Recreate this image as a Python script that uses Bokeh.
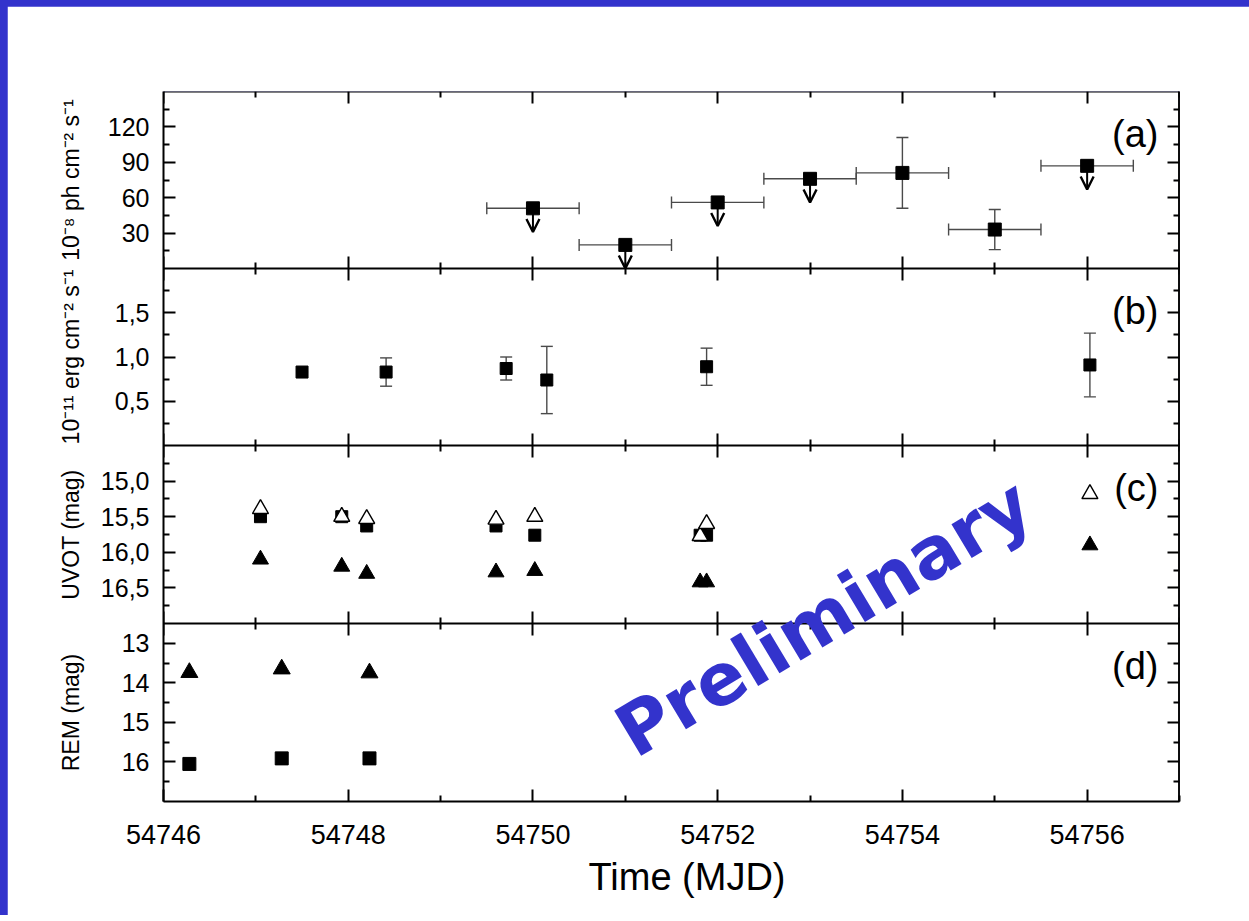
import math
from bokeh.plotting import figure
from bokeh.layouts import column
from bokeh.models import (Range1d, LinearAxis, FixedTicker, CustomJSTickFormatter, Whisker,
                          TeeHead, Arrow, OpenHead, ColumnDataSource, Label, Title)
from bokeh.embed import file_html
from bokeh.resources import INLINE

# ---------------- data ----------------
# shared time axis (MJD)
x_start, x_end = 54746, 54757
x_major = [54746, 54748, 54750, 54752, 54754, 54756]
x_minor = [54747, 54749, 54751, 54753, 54755, 54757]

# (a) gamma-ray flux, 1e-8 ph cm-2 s-1
a_t = [54750, 54751, 54752, 54753, 54754, 54755, 54756]
a_flux = [51, 20, 56, 76, 81, 33, 87]
a_terr = [0.5, 0.5, 0.5, 0.5, 0.5, 0.5, 0.5]
a_ferr = [0, 0, 0, 0, 30, 17, 0]
a_upper = [True, True, True, True, False, False, True]
a_major = [30, 60, 90, 120]
a_minor = [15, 45, 75, 105, 135]

# (b) X-ray flux, 1e-11 erg cm-2 s-1
b_t = [54747.50, 54748.41, 54749.71, 54750.15, 54751.88, 54756.03]
b_flux = [0.83, 0.83, 0.87, 0.74, 0.89, 0.91]
b_ferr = [0.01, 0.16, 0.13, 0.38, 0.21, 0.36]
b_major = [0.5, 1.0, 1.5]
b_minor = [0.25, 0.75, 1.25, 1.75]

# (c) UVOT magnitudes
c_open_t = [54747.05, 54747.93, 54748.20, 54749.60, 54750.02, 54751.81, 54751.88, 54756.03]
c_open_mag = [15.39, 15.50, 15.53, 15.54, 15.50, 15.77, 15.60, 15.18]
c_sq_t = [54747.05, 54747.93, 54748.20, 54749.60, 54750.02, 54751.81, 54751.88]
c_sq_mag = [15.50, 15.50, 15.63, 15.63, 15.76, 15.76, 15.76]
c_tri_t = [54747.05, 54747.93, 54748.20, 54749.60, 54750.02, 54751.81, 54751.88, 54756.03]
c_tri_mag = [16.10, 16.20, 16.30, 16.28, 16.26, 16.42, 16.42, 15.90]
c_major = [15.0, 15.5, 16.0, 16.5]
c_minor = [14.75, 15.25, 15.75, 16.25, 16.75]

# (d) REM magnitudes
d_t = [54746.28, 54747.28, 54748.23]
d_tri_mag = [13.74, 13.65, 13.75]
d_sq_mag = [16.05, 15.91, 15.91]
d_major = [13, 14, 15, 16]
d_minor = [13.5, 14.5, 15.5, 16.5]

# axis limits of each panel: (bottom value, top value)
lims = {"a": (0, 150), "b": (0, 2.0), "c": (17.0, 14.5), "d": (17.0, 12.5)}
ylabels = {"a": "10\u207b\u2078 ph cm\u207b\u00b2 s\u207b\u00b9",
           "b": "10\u207b\u00b9\u00b9 erg cm\u207b\u00b2 s\u207b\u00b9",
           "c": "UVOT (mag)", "d": "REM (mag)"}
ticks = {"a": (a_major, a_minor), "b": (b_major, b_minor),
         "c": (c_major, c_minor), "d": (d_major, d_minor)}
decimals = {"a": 0, "b": 1, "c": 1, "d": 0}
names = ["a", "b", "c", "d"]

# ---------------- layout / style ----------------
FONT = "Liberation Sans"
ERR_COLOR = "#4a4a4a"
ARROW_LEN = 20  # length of upper-limit arrows, in flux units of panel (a)
FRAME_W, FRAME_H = 1016, 710
panel_px = {"a": (0, 177), "b": (177, 354), "c": (354, 532), "d": (532, 710)}


def stacked_range(name):
    lo, hi = lims[name]
    t0, t1 = panel_px[name]
    u = (hi - lo) / (t1 - t0)
    return Range1d(lo - u * (FRAME_H - t1), hi + u * t0)


def to_px(name, v):
    """position of value v of panel `name` on the shared (pixel-like) left scale"""
    lo, hi = lims[name]
    t0, t1 = panel_px[name]
    from_top = t1 - (v - lo) / (hi - lo) * (t1 - t0)
    return FRAME_H - from_top


def fmt_num(v, dec):
    return ("%.*f" % (dec, v)).replace(".", ",")


def hide_fmt():
    return CustomJSTickFormatter(code="return ''")


def lookup_fmt(pos, txt):
    return CustomJSTickFormatter(args=dict(pos=pos, txt=txt), code="""
        let best = 0;
        for (let k = 0; k < pos.length; k++) {
            if (Math.abs(pos[k] - tick) < Math.abs(pos[best] - tick)) best = k;
        }
        return txt[best];
    """)


tick_style = dict(axis_line_width=2, axis_line_color="black",
                  major_tick_line_width=2, minor_tick_line_width=2,
                  major_tick_line_color="black", minor_tick_line_color="black",
                  major_tick_in=12, major_tick_out=0, minor_tick_in=6, minor_tick_out=0)

xr = Range1d(x_start, x_end)
p = figure(x_range=xr, y_range=Range1d(0, FRAME_H), frame_width=FRAME_W, frame_height=FRAME_H,
           min_border_left=156, min_border_right=70, min_border_top=85, min_border_bottom=114,
           x_axis_location=None, y_axis_location=None,
           toolbar_location=None, output_backend="svg", tools="")
p.extra_y_ranges = {k: stacked_range(k) for k in names}
p.outline_line_color = None
p.grid.visible = False
p.background_fill_color = "white"
p.border_fill_color = "white"

xt = FixedTicker(ticks=x_major, minor_ticks=x_minor)

# top axis
p.add_layout(LinearAxis(ticker=xt, formatter=hide_fmt(), y_range_name="a",
                        fixed_location=lims["a"][1], **tick_style), "above")
# separators between panels (ticks pointing into both panels)
sep_style = dict(tick_style)
sep_style.update(major_tick_out=12, minor_tick_out=6)
for name in ["a", "b", "c"]:
    p.add_layout(LinearAxis(ticker=xt, formatter=hide_fmt(), y_range_name=name,
                            fixed_location=lims[name][0], **sep_style), "below")
# bottom axis with labels
p.add_layout(LinearAxis(ticker=xt, formatter=CustomJSTickFormatter(code="return tick.toFixed(0)"),
                        major_label_text_font=FONT, major_label_text_font_size="27px",
                        major_label_text_color="black", major_label_standoff=23,
                        **tick_style), "below")
p.add_layout(Title(text="Time (MJD)", align="left", offset=425, standoff=14,
                   text_font=FONT, text_font_size="38px", text_font_style="normal",
                   text_color="black"), "below")

# left axis: tick labels of all four panels on one shared scale
maj_pos, maj_txt, min_pos = [], [], []
for name in names:
    for v in ticks[name][0]:
        maj_pos.append(to_px(name, v))
        maj_txt.append(fmt_num(v, decimals[name]))
    for v in ticks[name][1]:
        min_pos.append(to_px(name, v))
p.add_layout(LinearAxis(ticker=FixedTicker(ticks=maj_pos, minor_ticks=min_pos),
                        formatter=lookup_fmt(maj_pos, maj_txt),
                        major_label_text_font=FONT, major_label_text_font_size="25px",
                        major_label_text_color="black", major_label_standoff=14,
                        **tick_style), "left")
# outer left axis carrying the four panel titles
mid_pos = [to_px(n, (lims[n][0] + lims[n][1]) / 2) for n in names]
p.add_layout(LinearAxis(ticker=FixedTicker(ticks=mid_pos, minor_ticks=[]),
                        formatter=lookup_fmt(mid_pos, [ylabels[n] for n in names]),
                        major_label_orientation="vertical",
                        major_label_text_font=FONT, major_label_text_font_size="23px",
                        major_label_text_color="black", major_label_standoff=14,
                        axis_line_color=None, major_tick_line_color=None,
                        minor_tick_line_color=None, major_tick_in=0, major_tick_out=0,
                        minor_tick_in=0, minor_tick_out=0), "left")

for name in names:
    yt = FixedTicker(ticks=ticks[name][0], minor_ticks=ticks[name][1])
    p.add_layout(LinearAxis(ticker=yt, formatter=hide_fmt(), y_range_name=name,
                            fixed_location=x_end, **tick_style), "right")
    lo, hi = lims[name]
    p.add_layout(Label(x=x_end, y=hi, y_range_name=name, x_offset=-21, y_offset=-42,
                       text="(" + name + ")", text_font=FONT, text_font_size="38px",
                       text_color="black", text_align="right", text_baseline="middle"))


def tee():
    return TeeHead(size=12, line_color=ERR_COLOR, line_width=1.4)


# ---------------- panel (a) ----------------
src_a = ColumnDataSource(dict(
    t=a_t, f=a_flux,
    tl=[t - e for t, e in zip(a_t, a_terr)], tu=[t + e for t, e in zip(a_t, a_terr)]))
p.add_layout(Whisker(source=src_a, base="f", lower="tl", upper="tu", dimension="width",
                     y_range_name="a", line_color=ERR_COLOR, line_width=1.4,
                     upper_head=tee(), lower_head=tee()))
ev = [i for i, e in enumerate(a_ferr) if e > 0]
src_ae = ColumnDataSource(dict(
    t=[a_t[i] for i in ev],
    fl=[a_flux[i] - a_ferr[i] for i in ev], fu=[a_flux[i] + a_ferr[i] for i in ev]))
p.add_layout(Whisker(source=src_ae, base="t", lower="fl", upper="fu", dimension="height",
                     y_range_name="a", line_color=ERR_COLOR, line_width=1.4,
                     upper_head=tee(), lower_head=tee()))
ul = [i for i, u in enumerate(a_upper) if u]
src_ul = ColumnDataSource(dict(
    x=[a_t[i] for i in ul], y=[a_flux[i] for i in ul],
    ye=[a_flux[i] - ARROW_LEN for i in ul]))
p.add_layout(Arrow(source=src_ul, x_start="x", y_start="y", x_end="x", y_end="ye",
                   y_range_name="a", line_color="black", line_width=2, level="underlay",
                   end=OpenHead(size=13, line_color="black", line_width=2.4)))
p.scatter("t", "f", source=src_a, marker="square", size=13, color="black", y_range_name="a")

# ---------------- panel (b) ----------------
src_b = ColumnDataSource(dict(
    t=b_t, f=b_flux,
    fl=[f - e for f, e in zip(b_flux, b_ferr)], fu=[f + e for f, e in zip(b_flux, b_ferr)]))
p.add_layout(Whisker(source=src_b, base="t", lower="fl", upper="fu", dimension="height",
                     y_range_name="b", line_color=ERR_COLOR, line_width=1.4,
                     upper_head=tee(), lower_head=tee()))
p.scatter("t", "f", source=src_b, marker="square", size=12, color="black", y_range_name="b")

# ---------------- panel (c) ----------------
p.scatter(c_sq_t, c_sq_mag, marker="square", size=12, color="black", y_range_name="c")
p.scatter(c_tri_t, c_tri_mag, marker="triangle", size=16, color="black", y_range_name="c")
p.scatter(c_open_t, c_open_mag, marker="triangle", size=16, fill_color="white",
          line_color="black", line_width=1.4, y_range_name="c")

# ---------------- panel (d) ----------------
p.scatter(d_t, d_sq_mag, marker="square", size=13, color="black", y_range_name="d")
p.scatter(d_t, d_tri_mag, marker="triangle", size=17, color="black", y_range_name="d")

# ---------------- watermark ----------------
p.add_layout(Label(x=x_end, y=lims["c"][0], y_range_name="c", x_offset=-356, y_offset=6,
                   text="Preliminary", text_font="DejaVu Sans", text_font_size="72px",
                   text_font_style="bold", text_color="#3333cc", text_align="center",
                   text_baseline="middle", angle=0.54))

page = column(p, styles={"background-color": "#3333cc", "padding-top": "6px",
                         "padding-left": "7px"})
open("out.html", "w").write(file_html(page, INLINE))
